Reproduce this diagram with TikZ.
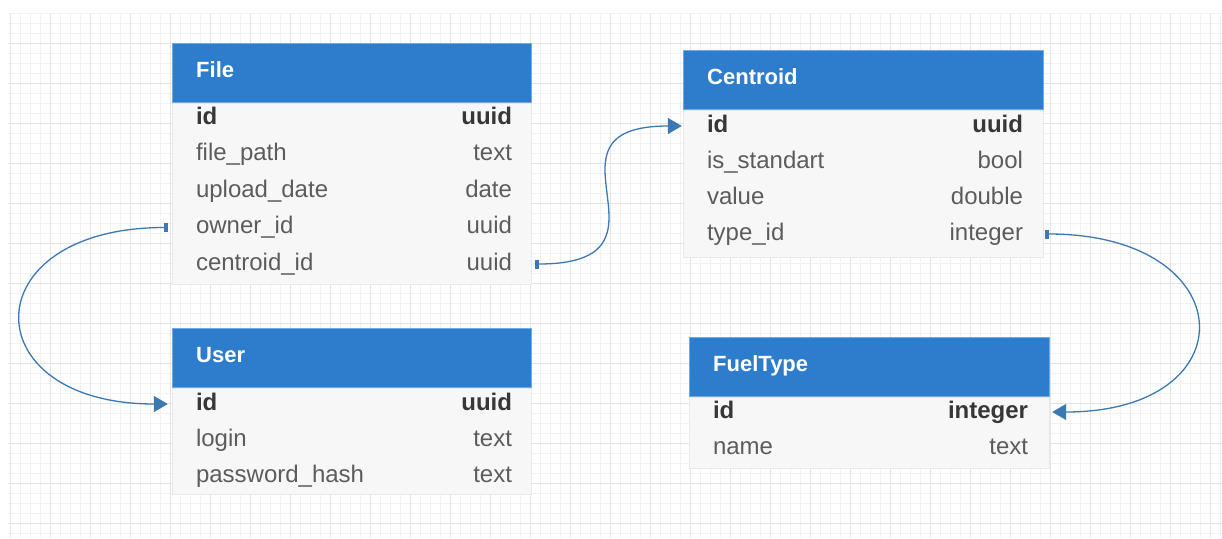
\documentclass[tikz,border=0pt]{standalone}
\usepackage{fontspec}
\setmainfont{Liberation Sans}
\usetikzlibrary{positioning,arrows.meta}
\definecolor{hdrblue}{RGB}{46,125,204}
\definecolor{hdredge}{RGB}{110,170,230}
\definecolor{bodygray}{RGB}{247,247,247}
\definecolor{bodyedge}{RGB}{233,233,233}
\definecolor{keygray}{RGB}{55,55,55}
\definecolor{fldgray}{RGB}{92,92,92}
\definecolor{linkblue}{RGB}{60,120,180}
\definecolor{gridminor}{RGB}{241,242,244}
\definecolor{gridmajor}{RGB}{226,228,231}
\begin{document}
\begin{tikzpicture}[x=1pt,y=-1pt,
	hdr/.style={fill=hdrblue,draw=hdredge,line width=.8pt,anchor=north west,minimum width=359pt,minimum height=59pt,inner sep=0pt},
	tbody/.style={fill=bodygray,draw=bodyedge,anchor=north west,minimum width=359pt,inner sep=0pt},
	row/.style={minimum width=359pt,minimum height=36pt,inner sep=0pt},
	title/.style={font=\bfseries\fontsize{22}{24}\selectfont,text=white,inner sep=0pt,text height=16pt,text depth=4pt},
	fld/.style={font=\fontsize{24}{26}\selectfont,text=fldgray,inner sep=0pt,text height=17pt,text depth=5pt},
	key/.style={fld,font=\bfseries\fontsize{24}{26}\selectfont,text=keygray},
	fk/.style={draw=linkblue,line width=1.3pt,{Rectangle[length=4pt,width=9pt]}-{Triangle[length=14pt,width=16pt]}}]
	\useasboundingbox(0,0)rectangle(1222,538);
	% grid
	\fill[white](0,0)rectangle(1222,538);
	\foreach \x in {10,20,...,1220} \draw[gridminor,line width=.8pt](\x,13)--(\x,538);
	\foreach \y in {13,23,...,533} \draw[gridminor,line width=.8pt](8,\y)--(1222,\y);
	\foreach \x in {10,50,...,1210} \draw[gridmajor,line width=.9pt](\x,13)--(\x,538);
	\foreach \y in {43,83,...,523} \draw[gridmajor,line width=.9pt](8,\y)--(1222,\y);

	% File
	\node[hdr](file)at(172,43){};
	\node[tbody,minimum height=181pt](filebody)at(file.south west){};
	\node[title,right=24pt of file.west,yshift=1pt]{File};
	\node[row](f1)at(351.5,118){};
	\node[key,right=24pt of f1.west]{id};
	\node[key,left=19pt of f1.east]{uuid};
	\foreach \i/\y/\name/\type in {2/154.5/file\_path/text,3/191/upload\_date/date,4/227.5/owner\_id/uuid,5/264/centroid\_id/uuid}{
		\node[row](f\i)at(351.5,\y){};
		\node[fld,right=24pt of f\i.west]{\name};
		\node[fld,left=19pt of f\i.east]{\type};
	}

	% Centroid
	\node[hdr,minimum width=360pt](centroid)at(683,50){};
	\node[tbody,minimum width=360pt,minimum height=147pt](centroidbody)at(centroid.south west){};
	\node[title,right=24pt of centroid.west,yshift=1pt]{Centroid};
	\node[row,minimum width=360pt](c1)at(863,126){};
	\node[key,right=24pt of c1.west]{id};
	\node[key,left=20pt of c1.east]{uuid};
	\foreach \i/\y/\name/\type in {2/162/is\_standart/bool,3/198/value/double,4/234/type\_id/integer}{
		\node[row,minimum width=360pt](c\i)at(863,\y){};
		\node[fld,right=24pt of c\i.west]{\name};
		\node[fld,left=20pt of c\i.east]{\type};
	}

	% User
	\node[hdr](user)at(172,328){};
	\node[tbody,minimum height=106pt](userbody)at(user.south west){};
	\node[title,right=24pt of user.west,yshift=1pt]{User};
	\node[row](u1)at(351.5,404){};
	\node[key,right=24pt of u1.west]{id};
	\node[key,left=19pt of u1.east]{uuid};
	\foreach \i/\y/\name/\type in {2/440/login/text,3/476/password\_hash/text}{
		\node[row](u\i)at(351.5,\y){};
		\node[fld,right=24pt of u\i.west]{\name};
		\node[fld,left=19pt of u\i.east]{\type};
	}

	% FuelType
	\node[hdr,minimum width=360pt](fuel)at(689,337){};
	\node[tbody,minimum width=360pt,minimum height=71pt](fuelbody)at(fuel.south west){};
	\node[title,right=24pt of fuel.west,yshift=1pt]{FuelType};
	\node[row,minimum width=360pt](t1)at(869,412){};
	\node[key,right=24pt of t1.west]{id};
	\node[key,left=21pt of t1.east]{integer};
	\node[row,minimum width=360pt](t2)at(869,448){};
	\node[fld,right=24pt of t2.west]{name};
	\node[fld,left=21pt of t2.east]{text};

	% links
	\draw[fk]([xshift=-4pt]f4.west).. controls +(-196,0) and +(-196,0) ..([xshift=-4pt]u1.west);
	\draw[fk]([xshift=4pt]f5.east).. controls +(155,0) and +(-155,0) ..([xshift=-1pt]c1.west);
	\draw[fk]([xshift=2pt]c4.east).. controls +(198,0) and +(198,0) ..([xshift=3pt]t1.east);
\end{tikzpicture}
\end{document}
